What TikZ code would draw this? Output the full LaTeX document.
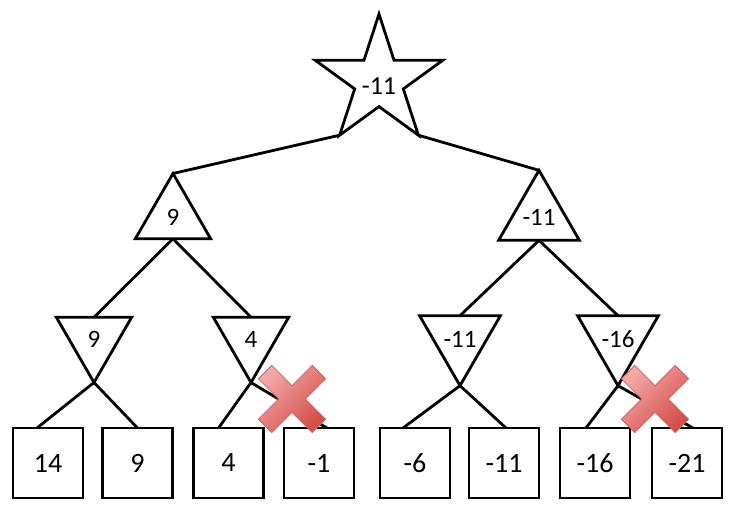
\documentclass[tikz,border=0pt]{standalone}
\usepackage{fontspec}
\setmainfont{Carlito}
\usepackage{tikz}
\usetikzlibrary{shapes.geometric}
\definecolor{crosslight}{HTML}{F4A8A8}
\definecolor{crossdark}{HTML}{D44E4A}
\definecolor{crossrim}{HTML}{CC6464}
\tikzset{
   tree line/.style={line width=2.8pt},
   root star/.style={ draw, line width=2.8pt,
           star, star points=5, star point ratio=2.62,
           minimum size=134pt, inner sep=0pt, outer sep=0pt,
           text height=26pt,
           font=\fontsize{26}{30}\selectfont,
   },
   max tri/.style={ draw, line width=2.8pt,
           regular polygon, regular polygon sides=3,
           minimum size=87pt, inner sep=0pt, outer sep=0pt,
           font=\fontsize{25}{30}\selectfont,
   },
   min tri/.style={ max tri, shape border rotate=180 },
   leaf/.style={ draw, line width=2.8pt, rectangle,
           minimum width=70pt, minimum height=70pt,
           inner sep=0pt, outer sep=0pt,
           font=\fontsize{28}{33}\selectfont,
   }
}
\tikzset{
  cut mark/.pic={
    \draw [crossrim, line width=0.8pt, top color=crosslight, bottom color=crossdark, shading angle=45]
    (13.4,0) -- (33.6,-20.2) -- (20.2,-33.6) -- (0,-13.4) -- (-20.2,-33.6) -- (-33.6,-20.2)
    -- (-13.4,0) -- (-33.6,20.2) -- (-20.2,33.6) -- (0,13.4) -- (20.2,33.6) -- (33.6,20.2) -- cycle;
  }
}
\begin{document}
\begin{tikzpicture}[x=1pt, y=-1pt]
    \useasboundingbox (0,0) rectangle (755,512);

    \node[root star] (root) at (379,81) {-11};

    \node[max tri] (m9) at (173,217) {9};
    \node[max tri] (m11) at (539,217) {-11};

    \node[min tri] (n9) at (94,339) {9};
    \node[min tri] (n4) at (251,339) {4};
    \node[min tri] (n11) at (460,339) {-11};
    \node[min tri] (n16) at (618,339) {-16};

    \node[leaf] (l1) at (48,463) {14};
    \node[leaf] (l2) at (137.5,463) {9};
    \node[leaf] (l3) at (228.5,463) {4};
    \node[leaf] (l4) at (319,463) {-1};
    \node[leaf] (l5) at (415,463) {-6};
    \node[leaf] (l6) at (504,463) {-11};
    \node[leaf] (l7) at (595,463) {-16};
    \node[leaf] (l8) at (687,463) {-21};

    \draw[tree line] (root.outer point 3) -- (m9.corner 1);
    \draw[tree line] (root.outer point 4) -- (m11.corner 1);

    \draw[tree line] (m9.side 2) -- (n9.side 2);
    \draw[tree line] (m9.side 2) -- (n4.side 2);
    \draw[tree line] (m11.side 2) -- (n11.side 2);
    \draw[tree line] (m11.side 2) -- (n16.side 2);

    \draw[tree line] (n9.corner 1) -- ([xshift=-11pt]l1.north);
    \draw[tree line] (n9.corner 1) -- ([xshift=0pt]l2.north);
    \draw[tree line] (n4.corner 1) -- ([xshift=-10pt]l3.north);
    \draw[tree line] (n4.corner 1) -- ([xshift=8pt]l4.north);
    \draw[tree line] (n11.corner 1) -- ([xshift=-12pt]l5.north);
    \draw[tree line] (n11.corner 1) -- ([xshift=2pt]l6.north);
    \draw[tree line] (n16.corner 1) -- ([xshift=-9pt]l7.north);
    \draw[tree line] (n16.corner 1) -- ([xshift=6pt]l8.north);

    \pic at (292,399) {cut mark};
    \pic at (655,399) {cut mark};

  \end{tikzpicture}
\end{document}
